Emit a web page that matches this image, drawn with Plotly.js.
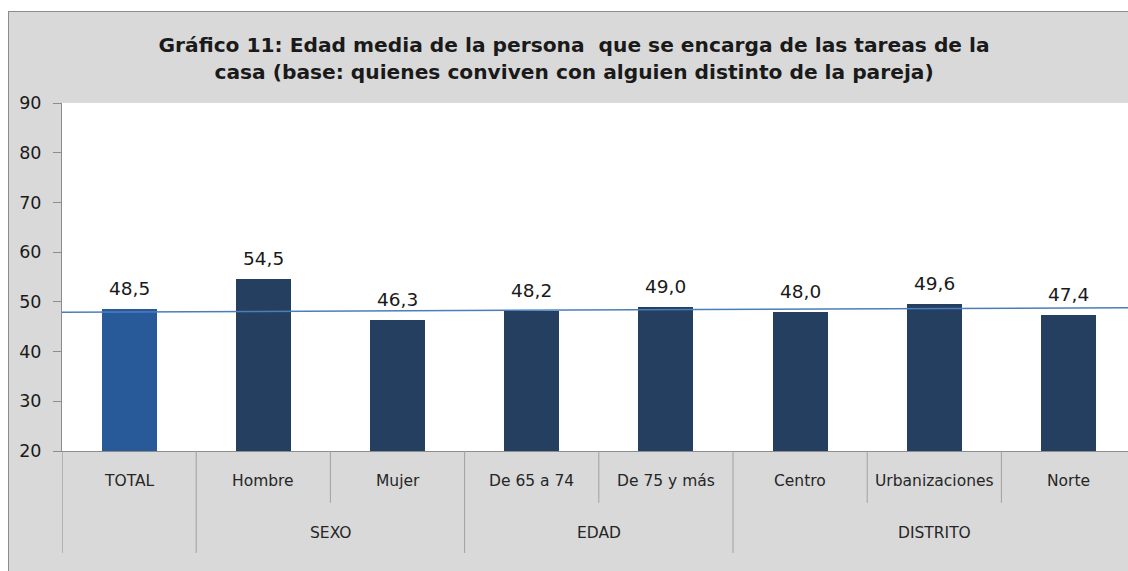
<!DOCTYPE html>
<html>
<head>
<meta charset="utf-8">
<script src="https://cdn.plot.ly/plotly-3.0.1.min.js"></script>
<style>
  html, body { margin: 0; padding: 0; background: #ffffff; overflow: hidden; width: 1128px; height: 571px; }
  #frame { position: absolute; left: 8px; top: 11px; width: 1130px; height: 570px;
           border-left: 1px solid #8c8c8c; border-top: 1px solid #8c8c8c; background: #d9d9d9; }
  #chart { width: 1119px; height: 559px; }
</style>
</head>
<body>
<div id="frame"><div id="chart"></div></div>
<script>
// ---- data ----
const categories = ['TOTAL', 'Hombre', 'Mujer', 'De 65 a 74', 'De 75 y más', 'Centro', 'Urbanizaciones', 'Norte'];
const groups     = ['', 'SEXO', 'SEXO', 'EDAD', 'EDAD', 'DISTRITO', 'DISTRITO', 'DISTRITO'];
const values     = [48.5, 54.5, 46.3, 48.2, 49.0, 48.0, 49.6, 47.4];
const trendValues = [47.9, 48.84];           // reference line, read at the outer category edges
const yTicks     = [20, 30, 40, 50, 60, 70, 80, 90];
const titleText  = 'Gráfico 11: Edad media de la persona  que se encarga de las tareas de la<br>casa (base: quienes conviven con alguien distinto de la pareja)';

// ---- style ----
const FONT = 'Century Gothic, DejaVu Sans, sans-serif';
const idx = categories.map((_, i) => i);
const barColors = categories.map((c, i) => i === 0 ? '#285a9a' : '#253f61');
const n = categories.length;

const traces = [
  {
    type: 'bar', x: idx, y: values, width: 0.41,
    marker: { color: barColors },
    hoverinfo: 'skip', showlegend: false
  },
  {
    type: 'scatter', mode: 'lines', x: [-0.5, n - 0.5], y: trendValues,
    line: { color: '#4a7ebb', width: 1.5 },
    hoverinfo: 'skip', showlegend: false
  }
];

const annotations = [];
// value labels
values.forEach((v, i) => {
  annotations.push({
    x: i, y: v, xref: 'x', yref: 'y', yanchor: 'bottom', yshift: 8,
    text: v.toFixed(1).replace('.', ','), showarrow: false,
    font: { family: FONT, size: 18.5, color: '#1a1a1a' }
  });
});
// category labels
categories.forEach((c, i) => {
  annotations.push({
    x: i, y: -0.086, xref: 'x', yref: 'paper', yanchor: 'middle',
    text: c, showarrow: false,
    font: { family: FONT, size: 15.5, color: '#262626' }
  });
});
// group labels and separators
const shapes = [];
const lineColor = '#a0a0a0';
let start = 0;
for (let i = 1; i <= n; i++) {
  if (i === n || groups[i] !== groups[start]) {
    if (groups[start]) {
      annotations.push({
        x: (start + i - 1) / 2, y: -0.236, xref: 'x', yref: 'paper', yanchor: 'middle',
        text: groups[start], showarrow: false,
        font: { family: FONT, size: 15.5, color: '#262626' }
      });
    }
    start = i;
  }
}
for (let i = 0; i <= n; i++) {
  const isGroupEdge = (i === 0 || i === n || groups[i] !== groups[i - 1]);
  shapes.push({
    type: 'line', xref: 'x', yref: 'paper',
    x0: i - 0.5, x1: i - 0.5, y0: 0, y1: isGroupEdge ? -0.293 : -0.149,
    line: { color: i === 0 ? '#8c8c8c' : lineColor, width: 1 }
  });
}

const layout = {
  width: 1119, height: 559,
  paper_bgcolor: '#d9d9d9', plot_bgcolor: '#ffffff',
  margin: { l: 53, r: 0, t: 91, b: 120 },
  separators: ',.',
  title: {
    text: titleText, x: 0.505, xref: 'container', xanchor: 'center',
    y: 0.928, yref: 'container', yanchor: 'top',
    font: { family: FONT, size: 20.2, color: '#1a1a1a', weight: 'bold' }
  },
  xaxis: {
    range: [-0.5, (1128 - 62) / 134.2 - 0.5], showticklabels: false, showgrid: false,
    zeroline: false, showline: true, linecolor: '#8c8c8c', linewidth: 1, ticks: '', fixedrange: true
  },
  yaxis: {
    range: [20, 90], tickvals: yTicks, ticktext: yTicks.map(String),
    showgrid: false, zeroline: false, showline: true, linecolor: '#8c8c8c', linewidth: 1,
    ticks: 'outside', ticklen: 8, tickcolor: '#8c8c8c', ticklabelstandoff: 8,
    tickfont: { family: FONT, size: 17.5, color: '#1a1a1a' }, fixedrange: true
  },
  annotations: annotations,
  shapes: shapes,
  bargap: 0
};

Plotly.newPlot('chart', traces, layout, { displayModeBar: false, staticPlot: true });
</script>
</body>
</html>
